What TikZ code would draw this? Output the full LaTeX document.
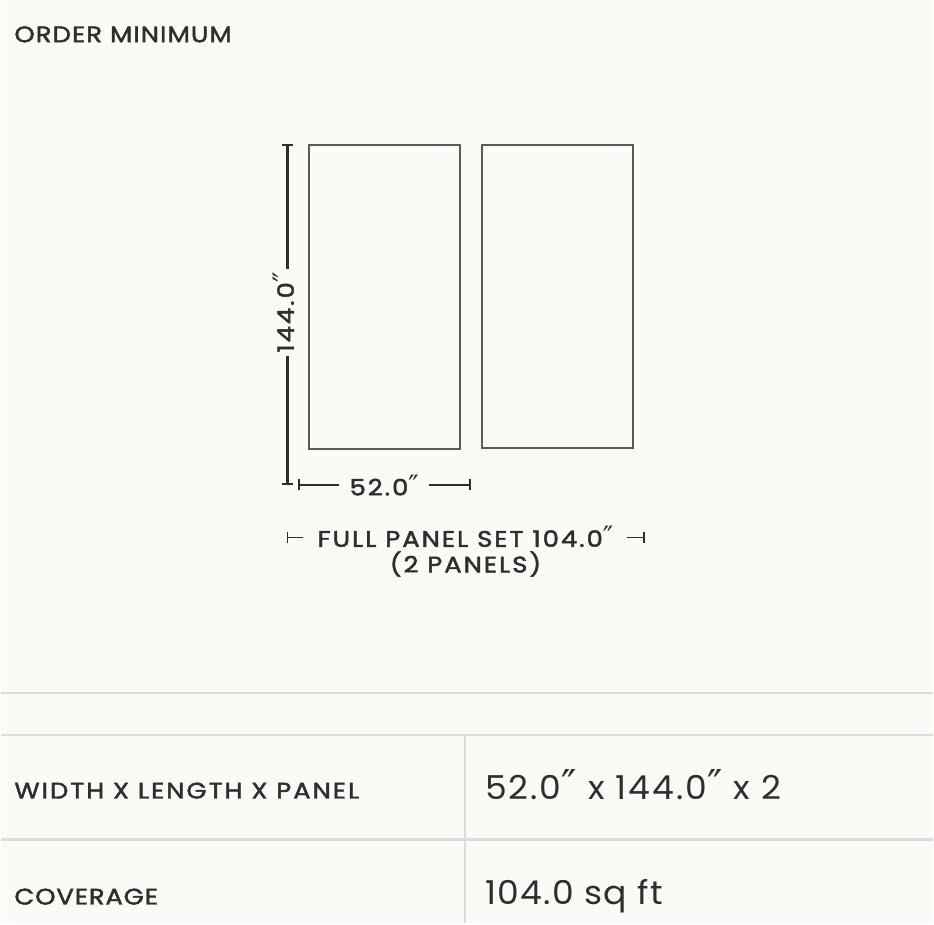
\documentclass[tikz,border=0pt]{standalone}
\usepackage{fontspec}
\setmainfont{Poppins}
\newfontfamily\capsfont[LetterSpace=9,FakeStretch=1.15,FakeBold=2]{Poppins}
\newfontfamily\valuefont[LetterSpace=4,FakeStretch=1.05]{Poppins}
\newfontfamily\primefont[Scale=1.25]{DejaVu Sans}
\newcommand{\inch}{{\primefont ″}}
\usepackage{xcolor}
\usetikzlibrary{positioning,arrows.meta}
\definecolor{paper}{HTML}{FBFAF6}
\definecolor{ink}{HTML}{2E2E2E}
\definecolor{panelgray}{HTML}{5A5A5A}
\definecolor{rulegray}{HTML}{DADCDC}

\begin{document}
\begin{tikzpicture}[x=1pt,y=-1pt,
		panel/.style={draw=panelgray,line width=2pt,inner sep=0pt,minimum width=151pt},
		dim/.style={ink,line width=2.2pt},
		tick/.style={ink,line width=1.6pt},
		caps/.style={text=ink,inner sep=0pt,font=\capsfont\fontsize{22.5}{26}\selectfont},
		value/.style={text=ink,inner sep=0pt,anchor=base west,font=\valuefont\fontsize{33}{38}\selectfont},
		tablerule/.style={rulegray,line width=2.6pt}]
		\fill[paper] (0,0) rectangle (934,926);
		\node[caps,anchor=base west] (ordertitle) at (13,42.3) {\addfontfeature{LetterSpace=5}ORDER MINIMUM};
		% the two panels
		\node[panel,minimum height=305pt] (leftpanel) at (384.5,297.5) {};
		\node[panel,minimum height=304pt] (rightpanel) at (557.5,297) {};
		% height of one panel
		\coordinate (vtop) at (287,144);
		\coordinate (vbot) at (287,486);
		\node[caps,rotate=90,anchor=base,inner xsep=3pt] (heightlabel) at (293.3,313) {144.0\inch};
		\draw[dim,{Bar[width=11pt,line width=2pt]}-] (vtop) -- (vtop |- heightlabel.east);
		\draw[dim,-{Bar[width=11pt,line width=2pt]}] (vbot |- heightlabel.west) -- (vbot);
		% width of one panel
		\coordinate (wleft) at (298,486);
		\coordinate (wright) at (471,486);
		\node[caps,anchor=base,inner xsep=10pt] (widthlabel) at (384,496.7) {52.0\inch};
		\draw[dim,{Bar[width=11pt,line width=2pt]}-] (wleft) -- (wleft -| widthlabel.west);
		\draw[dim,-{Bar[width=11pt,line width=2pt]}] (wright -| widthlabel.east) -- (wright);
		% whole set
		\node[caps,anchor=base] (setlabel) at (465.5,548.3) {FULL PANEL SET 104.0\inch};
		\node[caps,anchor=base] (countlabel) at (465.5,574) {(2 PANELS)};
		\coordinate (sleft) at (286,539);
		\coordinate (sright) at (645,539);
		\draw[tick,{Bar[width=12pt,line width=1.6pt]}-] (sleft) -- ++(17,0);
		\draw[tick,-{Bar[width=12pt,line width=1.6pt]}] (sright) ++(-18,0) -- (sright);
		% table
		\draw[tablerule] (0,695) -- (934,695);
		\draw[tablerule] (0,737) -- (934,737);
		\draw[tablerule] (0,842) -- (934,842);
		\draw[tablerule] (465,737) -- (465,926);
		\node[caps,anchor=base west] (sizekey) at (13,800.7) {WIDTH X LENGTH X PANEL};
		\node[value] (sizeval) at (485,801.7) {\addfontfeature{LetterSpace=6}52.0\inch{} x 144.0\inch{} x 2};
		\node[caps,anchor=base west] (coveragekey) at (13,907) {\addfontfeature{LetterSpace=4}COVERAGE};
		\node[value] (coverageval) at (485,906.7) {104.0 sq ft};
	\end{tikzpicture}
\end{document}
